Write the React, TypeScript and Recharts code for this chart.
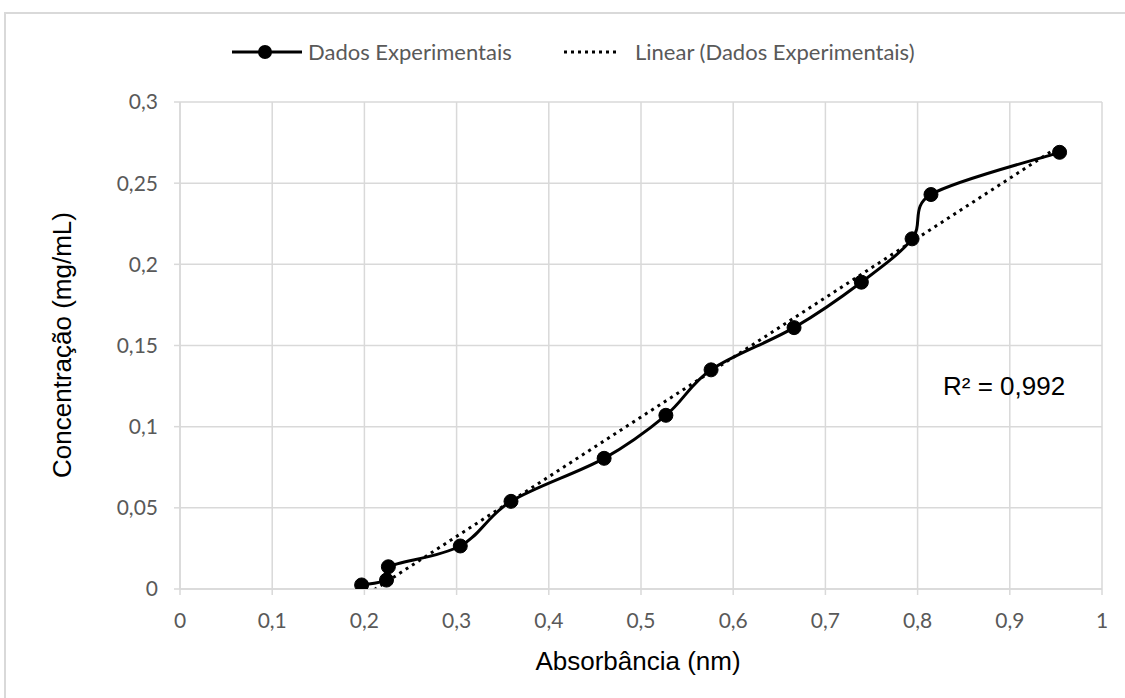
import { LineChart, Line, XAxis, YAxis, CartesianGrid } from "recharts";

// absorbância (x) x concentração (y)
const absorbancia = [0.197, 0.224, 0.226, 0.304, 0.359, 0.46, 0.527, 0.576, 0.666, 0.739, 0.794, 0.8145, 0.954];
const concentracao = [0.0025, 0.0055, 0.0137, 0.0265, 0.054, 0.0805, 0.107, 0.135, 0.161, 0.189, 0.2157, 0.243, 0.269];

const xTicks = [0, 0.1, 0.2, 0.3, 0.4, 0.5, 0.6, 0.7, 0.8, 0.9, 1];
const yTicks = [0, 0.05, 0.1, 0.15, 0.2, 0.25, 0.3];

const points = absorbancia.map((x, i) => ({ x, y: concentracao[i] }));

// least squares trendline over the data range
function linearFit(xs: number[], ys: number[]) {
  const n = xs.length;
  const mx = xs.reduce((s, v) => s + v, 0) / n;
  const my = ys.reduce((s, v) => s + v, 0) / n;
  let sxy = 0;
  let sxx = 0;
  xs.forEach((x, i) => {
    sxy += (x - mx) * (ys[i] - my);
    sxx += (x - mx) * (x - mx);
  });
  const slope = sxy / sxx;
  return { slope, intercept: my - slope * mx };
}

const fit = linearFit(absorbancia, concentracao);
const xMin = Math.min(...absorbancia);
const xMax = Math.max(...absorbancia);
const trend = [
  { x: xMin, y: fit.intercept + fit.slope * xMin },
  { x: xMax, y: fit.intercept + fit.slope * xMax },
];

// excel-like smoothed line: catmull-rom beziers, handles clamped to the segment
function smoothCurve(context: any) {
  let pts: number[][] = [];
  const clamp = (t: number[], max: number) => {
    const len = Math.hypot(t[0], t[1]);
    if (len <= max || len === 0) return t;
    return [(t[0] * max) / len, (t[1] * max) / len];
  };
  return {
    areaStart() {},
    areaEnd() {},
    lineStart() {
      pts = [];
    },
    point(x: number, y: number) {
      pts.push([+x, +y]);
    },
    lineEnd() {
      if (!pts.length) return;
      context.moveTo(pts[0][0], pts[0][1]);
      for (let i = 0; i < pts.length - 1; i++) {
        const p0 = pts[i - 1] ?? pts[i];
        const p1 = pts[i];
        const p2 = pts[i + 1];
        const p3 = pts[i + 2] ?? pts[i + 1];
        const seg = Math.hypot(p2[0] - p1[0], p2[1] - p1[1]);
        const t1 = clamp([(p2[0] - p0[0]) / 6, (p2[1] - p0[1]) / 6], seg / 2);
        const t2 = clamp([(p3[0] - p1[0]) / 6, (p3[1] - p1[1]) / 6], seg / 2);
        context.bezierCurveTo(p1[0] + t1[0], p1[1] + t1[1], p2[0] - t2[0], p2[1] - t2[1], p2[0], p2[1]);
      }
    },
  };
}

const fmt = (v: number) => String(v).replace(".", ",");

const tickFont = { fontFamily: "Lato, 'Open Sans', sans-serif", fontSize: 21, fill: "#595959" };
const titleFont = "'Liberation Sans', Arial, sans-serif";
const grid = "#d9d9d9";

export default function App() {
  return (
    <div style={{ position: "absolute", left: 0, top: 0, width: 1125, height: 698, background: "#fff", overflow: "hidden" }}>
      <div style={{ position: "absolute", left: 4, top: 12, width: 1200, height: 800, border: `2px solid ${grid}` }} />

      <LineChart width={1125} height={698} margin={{ top: 102, right: 23, bottom: 19, left: 30 }} style={{ position: "absolute", left: 0, top: 0 }}>
        <CartesianGrid stroke={grid} strokeWidth={1.5} />
        <XAxis
          type="number"
          dataKey="x"
          domain={[0, 1]}
          ticks={xTicks}
          tickFormatter={fmt}
          height={90}
          stroke={grid}
          strokeWidth={1.5}
          tickSize={6}
          tickMargin={18}
          tick={tickFont}
        />
        <YAxis
          type="number"
          dataKey="y"
          domain={[0, 0.3]}
          ticks={yTicks}
          tickFormatter={fmt}
          allowDataOverflow
          width={150}
          stroke={grid}
          strokeWidth={1.5}
          tickSize={6}
          tickMargin={16}
          tick={tickFont}
        />
        <Line
          data={trend}
          dataKey="y"
          type="linear"
          stroke="#000"
          strokeWidth={3}
          strokeDasharray="3 4.5"
          dot={false}
          isAnimationActive={false}
        />
        <Line
          data={points}
          dataKey="y"
          type={smoothCurve as any}
          stroke="#000"
          strokeWidth={3}
          dot={{ r: 7, fill: "#000", stroke: "#000", strokeWidth: 1 }}
          isAnimationActive={false}
        />
      </LineChart>

      {/* legend */}
      <svg width={70} height={20} style={{ position: "absolute", left: 232, top: 42 }}>
        <line x1={0} y1={10} x2={70} y2={10} stroke="#000" strokeWidth={3} />
        <circle cx={33} cy={10} r={7} fill="#000" />
      </svg>
      <div style={{ position: "absolute", left: 308, top: 38, fontFamily: tickFont.fontFamily, fontSize: 22, color: "#595959", lineHeight: "28px", whiteSpace: "nowrap" }}>
        Dados Experimentais
      </div>
      <svg width={56} height={20} style={{ position: "absolute", left: 564, top: 42 }}>
        <line x1={0} y1={10} x2={56} y2={10} stroke="#000" strokeWidth={3} strokeDasharray="3 4" />
      </svg>
      <div style={{ position: "absolute", left: 635, top: 38, fontFamily: tickFont.fontFamily, fontSize: 22, color: "#595959", lineHeight: "28px", whiteSpace: "nowrap" }}>
        Linear (Dados Experimentais)
      </div>

      {/* axis titles */}
      <div style={{ position: "absolute", left: 638, top: 661, transform: "translate(-50%, -50%)", fontFamily: titleFont, fontSize: 26, whiteSpace: "nowrap", color: "#000" }}>
        Absorbância (nm)
      </div>
      <div style={{ position: "absolute", left: 62, top: 345, transform: "translate(-50%, -50%) rotate(-90deg)", fontFamily: titleFont, fontSize: 26, whiteSpace: "nowrap", color: "#000" }}>
        Concentração (mg/mL)
      </div>

      <div style={{ position: "absolute", left: 943, top: 386, transform: "translateY(-50%)", fontFamily: titleFont, fontSize: 26, whiteSpace: "nowrap", color: "#000" }}>
        R² = 0,992
      </div>
    </div>
  );
}
